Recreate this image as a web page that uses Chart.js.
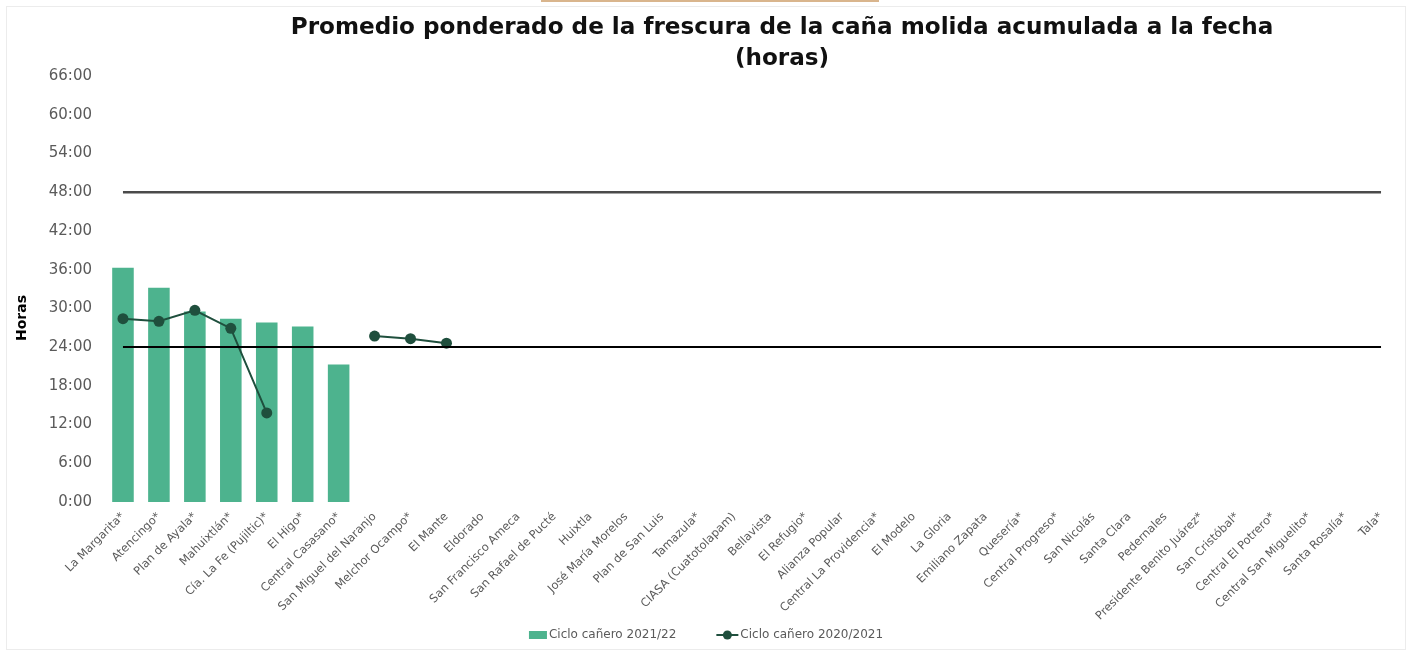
<!DOCTYPE html>
<html>
<head>
<meta charset="utf-8">
<script src="https://cdn.jsdelivr.net/npm/chart.js@4"></script>
<style>
  html, body { margin: 0; padding: 0; background: #fff; }
  #wrap { width: 1411px; height: 658px; position: relative; }
</style>
</head>
<body>
<div id="wrap"><canvas id="c" width="1411" height="658"></canvas></div>
<script>
const categories = [
  "La Margarita*", "Atencingo*", "Plan de Ayala*", "Mahuixtlán*", "Cía. La Fe (Pujiltic)*",
  "El Higo*", "Central Casasano*", "San Miguel del Naranjo", "Melchor Ocampo*", "El Mante",
  "Eldorado", "San Francisco Ameca", "San Rafael de Pucté", "Huixtla", "José María Morelos",
  "Plan de San Luis", "Tamazula*", "CIASA (Cuatotolapam)", "Bellavista", "El Refugio*",
  "Alianza Popular", "Central La Providencia*", "El Modelo", "La Gloria", "Emiliano Zapata",
  "Quesería*", "Central Progreso*", "San Nicolás", "Santa Clara", "Pedernales",
  "Presidente Benito Juárez*", "San Cristóbal*", "Central El Potrero*", "Central San Miguelito*",
  "Santa Rosalía*", "Tala*"
];
const ciclo2122 = [36.3, 33.2, 29.5, 28.4, 27.8, 27.2, 21.3, null, null, null,
  null, null, null, null, null, null, null, null, null, null, null, null, null, null,
  null, null, null, null, null, null, null, null, null, null, null, null];
const ciclo2021 = [28.4, 28.0, 29.7, 26.9, 13.8, null, null, 25.7, 25.3, 24.6,
  null, null, null, null, null, null, null, null, null, null, null, null, null, null,
  null, null, null, null, null, null, null, null, null, null, null, null];
const thresholds = [48, 24];
const yTicks = [0, 6, 12, 18, 24, 30, 36, 42, 48, 54, 60, 66];
const titleLines = ["Promedio ponderado de la frescura de la caña molida acumulada a la fecha", "(horas)"];
const seriesNames = ["Ciclo cañero 2021/22", "Ciclo cañero 2020/2021"];
const yTitle = "Horas";

const BAR = "#4db38e";
const LINE = "#1f4f3d";
const TXT = "#5a5a5a";

const decor = {
  id: 'decor',
  beforeDraw(chart) {
    const ctx = chart.ctx;
    ctx.save();
    ctx.fillStyle = '#fff'; ctx.fillRect(0, 0, chart.width, chart.height);
    ctx.strokeStyle = '#ececec'; ctx.lineWidth = 1;
    ctx.strokeRect(6.5, 6.5, 1399, 643);
    ctx.fillStyle = '#d9b58d'; ctx.fillRect(541, 0, 338, 2);
    ctx.restore();
  },
  afterDatasetsDraw(chart) {
    const ctx = chart.ctx, x = chart.scales.x, y = chart.scales.y;
    const x0 = x.getPixelForValue(0), x1 = x.getPixelForValue(categories.length - 1);
    ctx.save();
    const styles = [{c: '#4a4a4a', w: 2.5}, {c: '#000', w: 2}];
    thresholds.forEach((t, i) => {
      const py = y.getPixelForValue(t);
      ctx.strokeStyle = styles[i].c; ctx.lineWidth = styles[i].w;
      ctx.beginPath(); ctx.moveTo(x0, py); ctx.lineTo(x1, py); ctx.stroke();
    });
    ctx.restore();
  },
  afterDraw(chart) {
    const ctx = chart.ctx;
    ctx.save();
    // title
    ctx.fillStyle = '#111';
    ctx.textAlign = 'center'; ctx.textBaseline = 'middle';
    ctx.font = 'bold 20px "DejaVu Sans"';
    const w = ctx.measureText(titleLines[0]).width;
    const size = 20 * 983 / w;
    ctx.font = 'bold ' + size.toFixed(2) + 'px "DejaVu Sans"';
    ctx.fillText(titleLines[0], 782, 28);
    ctx.fillText(titleLines[1], 782, 59);
    // legend
    ctx.font = '12px "DejaVu Sans"';
    ctx.textAlign = 'left';
    const t1 = ctx.measureText(seriesNames[0]).width, t2 = ctx.measureText(seriesNames[1]).width;
    const total = 18 + 2 + t1 + 40 + 22 + 2 + t2;
    let lx = 706 - total / 2;
    const ly = 635;
    ctx.fillStyle = BAR; ctx.fillRect(lx, ly - 4, 18, 8);
    lx += 20;
    ctx.fillStyle = TXT; ctx.fillText(seriesNames[0], lx, ly);
    lx += t1 + 40;
    ctx.strokeStyle = LINE; ctx.lineWidth = 2;
    ctx.beginPath(); ctx.moveTo(lx, ly); ctx.lineTo(lx + 22, ly); ctx.stroke();
    ctx.fillStyle = LINE; ctx.beginPath(); ctx.arc(lx + 11, ly, 4.5, 0, Math.PI * 2); ctx.fill();
    lx += 24;
    ctx.fillStyle = TXT; ctx.fillText(seriesNames[1], lx, ly);
    // y title
    ctx.textAlign = 'center';
    ctx.translate(22, 318); ctx.rotate(-Math.PI / 2);
    ctx.font = 'bold 14px "DejaVu Sans"'; ctx.fillStyle = '#000';
    ctx.fillText(yTitle, 0, 0);
    ctx.restore();
  }
};

new Chart(document.getElementById('c'), {
  data: {
    labels: categories,
    datasets: [
      { type: 'line', label: seriesNames[1], data: ciclo2021, borderColor: LINE, backgroundColor: LINE,
        borderWidth: 2, pointRadius: 5.5, pointBackgroundColor: LINE, pointBorderWidth: 0,
        spanGaps: false, tension: 0, order: 0 },
      { type: 'bar', label: seriesNames[0], data: ciclo2122, backgroundColor: BAR,
        categoryPercentage: 1.0, barPercentage: 0.6, order: 1 }
    ]
  },
  options: {
    responsive: false,
    devicePixelRatio: 1,
    animation: false,
    layout: { padding: { top: 76, right: 12, left: 0, bottom: 0 } },
    plugins: {
      title: { display: false },
      tooltip: { enabled: false },
      legend: { display: false }
    },
    scales: {
      x: {
        grid: { display: false, drawTicks: false },
        border: { display: false },
        ticks: { autoSkip: false, maxRotation: 45, minRotation: 45, padding: 8, color: TXT,
                 font: { family: '"DejaVu Sans"', size: 11.5 } },
        afterFit(scale) { scale.height = 156; }
      },
      y: {
        min: 0, max: 66,
        grid: { display: false, drawTicks: false },
        border: { display: false },
        afterBuildTicks(scale) { scale.ticks = yTicks.map(v => ({ value: v })); },
        ticks: { padding: 13, color: TXT, font: { family: '"DejaVu Sans"', size: 15 },
                 callback: v => v + ':00' },
        afterFit(scale) { scale.width = 105; }
      }
    }
  },
  plugins: [decor]
});
</script>
</body>
</html>
